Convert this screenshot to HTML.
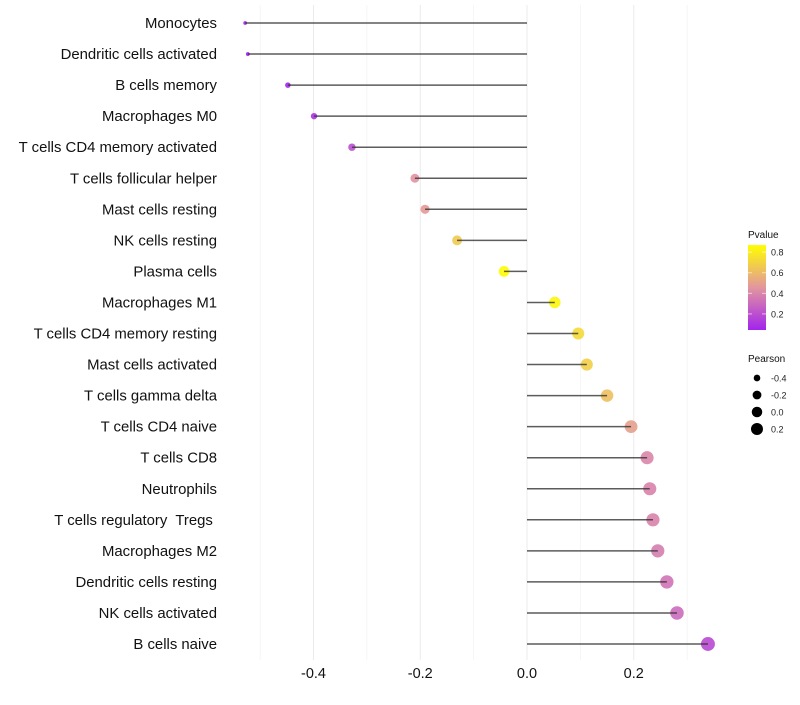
<!DOCTYPE html>
<html><head><meta charset="utf-8"><style>
body{margin:0;background:#fff;font-family:"Liberation Sans",sans-serif;}
</style></head><body>
<svg id="chart" width="800" height="700" xmlns="http://www.w3.org/2000/svg" font-family="Liberation Sans, sans-serif"></svg>
<script>
const categories=["Monocytes","Dendritic cells activated","B cells memory","Macrophages M0","T cells CD4 memory activated","T cells follicular helper","Mast cells resting","NK cells resting","Plasma cells","Macrophages M1","T cells CD4 memory resting","Mast cells activated","T cells gamma delta","T cells CD4 naive","T cells CD8","Neutrophils","T cells regulatory  Tregs ","Macrophages M2","Dendritic cells resting","NK cells activated","B cells naive"];
const pearson=[-0.528,-0.523,-0.448,-0.399,-0.328,-0.21,-0.191,-0.131,-0.043,0.052,0.096,0.112,0.15,0.195,0.225,0.23,0.236,0.245,0.262,0.281,0.339];
const pvalue=[0.01,0.02,0.05,0.1,0.2,0.45,0.47,0.66,0.86,0.84,0.72,0.68,0.62,0.5,0.4,0.39,0.39,0.37,0.33,0.3,0.18];
const xTicks=[-0.4,-0.2,0.0,0.2];
const xTickLabels=["-0.4","-0.2","0.0","0.2"];
const minorTicks=[-0.5,-0.3,-0.1,0.1,0.3];
const legendP=[0.8,0.6,0.4,0.2];
const legendR=[-0.4,-0.2,0.0,0.2];

const NS="http://www.w3.org/2000/svg";
const svg=document.getElementById('chart');
const x=v=>527+v*533.75;
const y=i=>23+i*31.05;
const rad=v=>Math.sqrt(Math.max(2,31+52*v));
function col(p){
  const stops=[[0.03,[160,32,240]],[0.45,[226,148,160]],[0.87,[255,255,0]]];
  p=Math.max(0.03,Math.min(0.87,p));
  let a=stops[0],b=stops[1];if(p>stops[1][0]){a=stops[1];b=stops[2];}
  const t=(p-a[0])/(b[0]-a[0]);
  return 'rgb('+a[1].map((c,k)=>Math.round(c+(b[1][k]-c)*t)).join(',')+')';
}
function el(tag,attrs,parent){const e=document.createElementNS(NS,tag);for(const k in attrs)e.setAttribute(k,attrs[k]);(parent||svg).appendChild(e);return e;}

minorTicks.forEach(v=>{
  const l=el('line',{x1:x(v),x2:x(v),y1:5,y2:660,stroke:'#f2f2f2','stroke-width':0.7});
  
  
});
xTicks.forEach((v,i)=>{
  const l=el('line',{x1:x(v),x2:x(v),y1:5,y2:660,stroke:'#ebebeb','stroke-width':1});
  
  
  const t=el('text',{x:x(v),y:678,'text-anchor':'middle','font-size':14.5,fill:'#111'});
  t.textContent=xTickLabels[i];
  
  
});
categories.forEach((c,i)=>{
  const t=el('text',{x:217,y:y(i)+5,'text-anchor':'end','font-size':14.9,fill:'#111'});
  t.style.whiteSpace='pre';
  t.textContent=c;
  
  
  const d=el('circle',{cx:x(pearson[i]),cy:y(i),r:rad(pearson[i]),fill:col(pvalue[i]),'fill-opacity':0.9});
  
  
  const l=el('line',{x1:x(0),x2:x(pearson[i]),y1:y(i),y2:y(i),stroke:'#333','stroke-opacity':0.8,'stroke-width':1.5});
  
  
});
// legend Pvalue
const lt=el('text',{x:748,y:238,'font-size':10,fill:'#111'});lt.textContent='Pvalue';


const defs=el('defs',{});
const g=el('linearGradient',{id:'pg',x1:0,y1:1,x2:0,y2:0},defs);
[0,0.25,0.5,0.75,1].forEach(o=>{const p=0.044+o*(0.868-0.044);el('stop',{offset:o,'stop-color':col(p)},g);});
const bar=el('rect',{x:748,y:245,width:18,height:85,fill:'url(#pg)'});


legendP.forEach(p=>{
  const yy=330-(p-0.044)*103;
  el('line',{x1:748,x2:752,y1:yy,y2:yy,stroke:'#fff','stroke-opacity':0.6});
  el('line',{x1:762,x2:766,y1:yy,y2:yy,stroke:'#fff','stroke-opacity':0.6});
  const t=el('text',{x:771,y:yy+3.5,'font-size':9,fill:'#222'});t.textContent=p.toFixed(1);
  
  
});
const lt2=el('text',{x:748,y:362,'font-size':10,fill:'#111'});lt2.textContent='Pearson';


const legR=v=>Math.sqrt(27.7+41.7*v);
legendR.forEach((v,i)=>{
  const yy=378+i*17;
  const c=el('circle',{cx:757,cy:yy,r:legR(v),fill:'#000'});
  
  
  const t=el('text',{x:771,y:yy+3.5,'font-size':9,fill:'#222'});t.textContent=v.toFixed(1);
  
  
});
</script>
</body></html>
